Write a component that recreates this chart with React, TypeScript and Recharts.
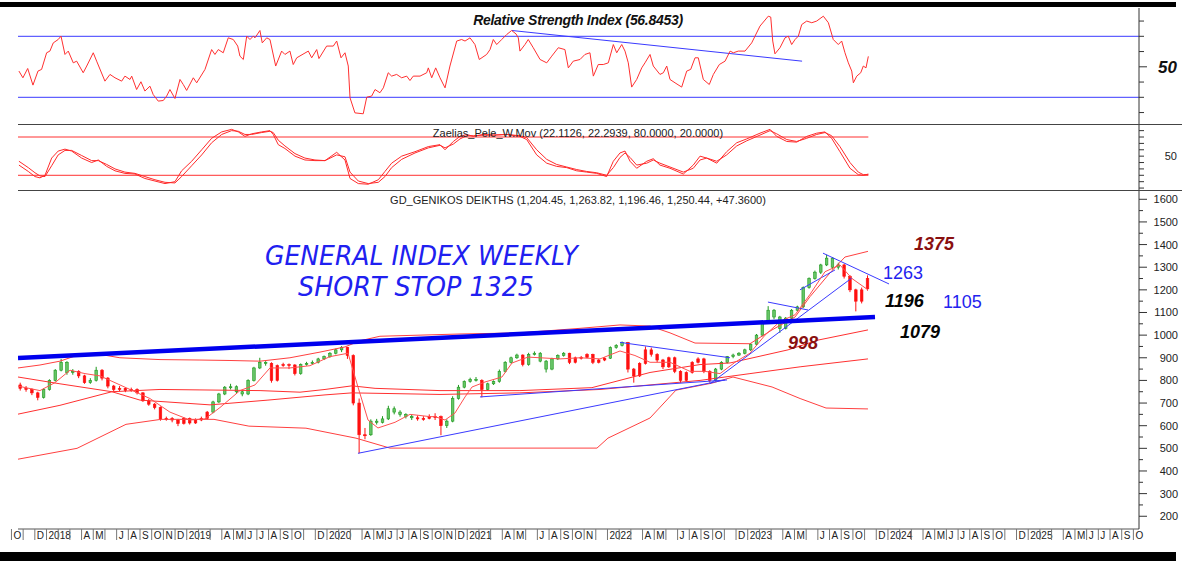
import React from 'react';
import { ComposedChart, Line, Bar, XAxis, YAxis, Scatter } from 'recharts';

const FONT = '"Liberation Sans", Arial, sans-serif';
const W = 1182;
const T_DOMAIN: [number, number] = [0.56, 96.48]; // months since Oct 1, 2017

// ---------- Month labels (index = months since Oct 2017) ----------
const monthLabels: string[] = [
  'O', '', 'D',
  '2018', '', '', 'A', 'M', '', 'J', 'A', 'S', 'O', 'N', 'D',
  '2019', '', '', 'A', 'M', 'J', 'J', 'A', 'S', 'O', '', 'D',
  '2020', '', '', 'A', 'M', 'J', 'J', 'A', 'S', 'O', 'N', 'D',
  '2021', '', '', 'A', 'M', '', 'J', 'A', 'S', 'O', 'N', '',
  '2022', '', '', 'A', 'M', '', 'J', 'A', 'S', 'O', '', 'D',
  '2023', '', '', 'A', 'M', '', 'J', 'A', 'S', 'O', '', 'D',
  '2024', '', '', 'A', 'M', 'J', 'J', 'A', 'S', 'O', '', 'D',
  '2025', '', '', 'A', 'M', 'J', 'J', 'A', 'S', 'O',
];
const monthTicks = monthLabels.map((_, i) => i);

// ---------- Candles: half-month bars [open, high, low, close, trendUp] ----------
const candleStart = 0.75;
const candleStep = 0.5;
const candles: [number, number, number, number, number][] = [
  [780, 790, 755, 765, 0], [765, 775, 750, 760, 0], [760, 765, 735, 745, 0], [745, 750, 712, 725, 0],
  [725, 765, 720, 760, 1], [760, 805, 755, 800, 1], [800, 850, 795, 845, 1], [845, 895, 840, 880, 1],
  [880, 885, 825, 835, 1], [835, 850, 825, 840, 1], [840, 845, 810, 820, 0], [820, 825, 785, 790, 0],
  [790, 810, 785, 800, 1], [800, 860, 795, 845, 1], [845, 850, 800, 810, 0], [810, 815, 765, 775, 0],
  [775, 780, 750, 760, 0], [760, 775, 752, 765, 0], [765, 770, 748, 755, 0], [755, 768, 750, 760, 0],
  [760, 765, 738, 745, 0], [745, 748, 705, 710, 0], [710, 718, 688, 695, 0], [695, 700, 672, 680, 0],
  [680, 685, 622, 630, 0], [630, 640, 622, 632, 0], [632, 638, 615, 625, 0], [625, 630, 598, 610, 0],
  [610, 638, 605, 632, 0], [632, 636, 605, 612, 0], [612, 632, 608, 625, 0], [625, 640, 620, 632, 0],
  [632, 665, 628, 660, 0], [660, 710, 655, 705, 1], [705, 745, 700, 740, 1], [740, 775, 735, 770, 1],
  [770, 785, 760, 772, 1], [772, 778, 742, 750, 1], [750, 755, 730, 740, 1], [740, 805, 735, 800, 1],
  [800, 860, 795, 855, 1], [855, 900, 850, 880, 1], [880, 885, 865, 875, 1], [875, 880, 790, 800, 0],
  [800, 870, 795, 865, 0], [865, 878, 860, 870, 0], [870, 875, 850, 868, 0], [868, 872, 822, 830, 0],
  [830, 875, 825, 870, 1], [870, 882, 865, 875, 1], [875, 888, 870, 880, 1], [880, 900, 875, 895, 1],
  [895, 910, 890, 905, 1], [905, 925, 900, 920, 1], [920, 940, 915, 935, 1], [935, 952, 925, 945, 1],
  [945, 948, 895, 910, 0], [910, 915, 690, 700, 0], [700, 720, 478, 560, 0], [560, 590, 540, 560, 0],
  [560, 628, 555, 620, 1], [620, 630, 605, 615, 1], [615, 642, 610, 630, 1], [630, 688, 625, 675, 1],
  [675, 685, 650, 660, 1], [660, 668, 640, 650, 1], [650, 655, 632, 640, 1], [640, 648, 625, 635, 1],
  [635, 645, 622, 630, 0], [630, 642, 622, 632, 0], [632, 650, 628, 640, 0], [640, 655, 625, 640, 0],
  [640, 645, 558, 600, 0], [600, 628, 590, 620, 1], [620, 730, 615, 720, 1], [720, 780, 715, 770, 1],
  [770, 800, 765, 795, 1], [795, 812, 790, 805, 1], [805, 815, 795, 800, 1], [800, 805, 725, 760, 0],
  [760, 790, 755, 785, 1], [785, 800, 780, 795, 1], [795, 848, 790, 840, 1], [840, 885, 835, 880, 1],
  [880, 905, 875, 900, 1], [900, 918, 895, 912, 1], [912, 915, 862, 870, 0], [870, 922, 865, 915, 1],
  [915, 928, 910, 920, 1], [920, 925, 880, 885, 1], [885, 890, 835, 850, 1], [850, 900, 845, 895, 1],
  [895, 915, 890, 910, 1], [910, 925, 905, 920, 1], [920, 922, 872, 880, 0], [880, 905, 875, 900, 0],
  [900, 908, 892, 902, 0], [902, 920, 898, 915, 0], [915, 918, 872, 880, 0], [880, 895, 875, 890, 0],
  [890, 902, 885, 898, 0], [898, 950, 895, 945, 1], [945, 960, 940, 955, 1], [955, 972, 950, 968, 1],
  [968, 970, 835, 850, 0], [850, 855, 790, 820, 0], [820, 880, 815, 875, 0], [875, 950, 870, 935, 0],
  [935, 945, 905, 915, 0], [915, 920, 880, 890, 0], [890, 895, 850, 860, 0], [860, 905, 855, 900, 0],
  [900, 905, 832, 840, 0], [840, 845, 789, 800, 0], [800, 840, 795, 835, 0], [835, 885, 830, 880, 0],
  [880, 902, 875, 895, 0], [895, 900, 832, 840, 0], [840, 845, 790, 800, 0], [800, 855, 795, 850, 1],
  [850, 885, 845, 880, 1], [880, 908, 875, 905, 1], [905, 918, 898, 912, 1], [912, 925, 908, 920, 1],
  [920, 940, 915, 935, 1], [935, 965, 930, 960, 1], [960, 1005, 955, 1000, 1], [1000, 1065, 995, 1060, 1],
  [1060, 1128, 1055, 1110, 1], [1110, 1115, 1070, 1080, 1], [1080, 1085, 1010, 1030, 1], [1030, 1080, 1025, 1075, 1],
  [1075, 1115, 1070, 1110, 1], [1110, 1130, 1105, 1125, 1], [1125, 1215, 1120, 1210, 1], [1210, 1255, 1205, 1250, 1],
  [1250, 1285, 1245, 1278, 1], [1278, 1315, 1270, 1310, 1], [1310, 1355, 1305, 1340, 1], [1340, 1345, 1290, 1300, 1],
  [1300, 1320, 1290, 1310, 1], [1310, 1315, 1250, 1260, 0], [1260, 1265, 1190, 1200, 0], [1200, 1205, 1105, 1150, 0],
  [1150, 1210, 1140, 1200, 0], [1204.45, 1263.82, 1196.46, 1250.44, 0],
];

// ---------- Price overlays [t, value] ----------
const upperBand: [number, number][] = [
  [0.56, 855], [2.44, 868], [4.15, 885], [5.86, 915], [7.57, 915], [9.28, 900], [12.71, 892], [16.13, 890],
  [18.7, 888], [21.27, 885], [23.83, 900], [26.4, 925], [28.54, 948], [29.82, 975], [31.53, 995], [34.96, 1000],
  [38.38, 1005], [43.51, 1010], [48.65, 1030], [52.07, 1045], [54.64, 1040], [56.35, 1010], [58.49, 965],
  [63.19, 962], [65.08, 1023], [67.05, 1080], [68.33, 1170], [70.04, 1275], [71.32, 1345], [73.29, 1370],
];
const lowerBand: [number, number][] = [
  [0.56, 452], [5.61, 500], [9.8, 606], [12.79, 628], [17.33, 628], [20.32, 598], [25.2, 589], [29.48, 545],
  [32.39, 501], [37.01, 501], [50.1, 501], [51.04, 545], [54.64, 634], [56.86, 757], [59.94, 788], [61.74, 815],
  [65.08, 771], [67.48, 720], [69.7, 678], [73.29, 674],
];
const midBand: [number, number][] = [
  [0.56, 651], [4.15, 690], [8.6, 750], [12.71, 760], [16.13, 758], [21.27, 755], [24.69, 748], [26.83, 760],
  [29.14, 776], [31.11, 765], [36.67, 755], [43.51, 755], [49.67, 768], [54.64, 835], [58.92, 870], [61.48, 877],
  [66.45, 935], [69.01, 978], [73.29, 1023],
];
const longMA: [number, number][] = [
  [0.56, 815], [4.15, 785], [8.6, 750], [11.0, 713], [16.99, 692], [21.95, 713], [26.83, 736], [29.14, 745],
  [36.67, 738], [43.51, 745], [50.36, 760], [54.64, 780], [58.92, 800], [63.19, 830], [67.48, 860], [73.29, 895],
];
const shortMA: [number, number][] = [
  [0.56, 775], [2.44, 755], [3.72, 790], [5.01, 845], [6.29, 830], [7.57, 820], [8.86, 790], [10.14, 760],
  [11.85, 720], [13.56, 660], [15.27, 625], [16.56, 630], [17.84, 680], [19.55, 755], [20.84, 780], [22.12, 855],
  [23.83, 855], [25.54, 865], [27.25, 905], [28.8, 920], [29.65, 771], [30.51, 625], [31.36, 590], [32.82, 615],
  [34.1, 650], [35.81, 640], [36.24, 640], [37.1, 625], [37.95, 656], [38.81, 727], [39.41, 771], [40.52, 793],
  [41.97, 815], [42.83, 877], [44.2, 903], [45.23, 900], [46.94, 895], [48.65, 900], [50.36, 895], [52.07, 930],
  [53.35, 910], [54.64, 880], [56.35, 880], [58.06, 840], [59.34, 840], [60.63, 830], [61.91, 880], [63.19, 920],
  [64.48, 1000], [65.76, 1060], [67.05, 1090], [68.33, 1180], [69.61, 1280], [70.89, 1310], [71.92, 1250], [73.29, 1200],
];

// hand-drawn trend lines on price panel: [[t1, v1], [t2, v2]]
const thickTrend: [number, number][] = [[0.56, 899], [73.89, 1080]];
const thinTrends: [number, number][][] = [
  [[29.65, 478], [61.06, 802]],
  [[40.09, 727], [61.23, 802]],
  [[52.07, 968], [61.48, 900]],
  [[59.77, 785], [71.92, 1253]],
  [[69.44, 1362], [75.09, 1226]],
  [[64.73, 1146], [68.16, 1111]],
  [[67.47, 1200], [70.47, 1288]],
];

// annotations [t, value, text, kind]
const annotations: [number, number, string, string][] = [
  [21.69, 1309, 'GENERAL INDEX WEEKLY', 'hand1'],
  [24.52, 1173, 'SHORT STOP 1325', 'hand2'],
  [77.23, 1378, '1375', 'darkred'],
  [74.58, 1246, '1263', 'blue'],
  [74.75, 1126, '1196', 'black'],
  [79.71, 1118, '1105', 'blue'],
  [76.03, 987, '1079', 'black'],
  [66.45, 937, '998', 'darkred'],
];

// ---------- RSI [t, value] ----------
const rsi: [number, number][] = [
  [0.64, 47.2], [0.98, 42.8], [1.39, 48.9], [1.84, 38], [2.27, 47.2], [2.58, 48.3], [3.01, 59.2], [3.29, 60.3],
  [3.58, 65.7], [4.0, 67.9], [4.24, 70.1], [4.58, 58.1], [4.86, 60.3], [5.29, 52.6], [5.58, 53.7], [6.14, 46.1],
  [6.44, 50.5], [7.0, 59.2], [7.29, 53.7], [8.0, 40.6], [8.43, 45], [8.86, 42.8], [9.43, 40.6], [9.71, 43.9],
  [10.14, 41.7], [10.29, 43.9], [10.71, 35.1], [11.08, 40.2], [11.42, 34.1], [11.85, 37.3], [12.13, 31.8],
  [12.56, 27.5], [12.99, 27.9], [13.28, 30.8], [13.56, 35.1], [13.99, 29.2], [14.42, 41.7], [14.7, 38.4],
  [14.99, 34.5], [15.56, 42.8], [15.85, 39.5], [16.56, 48.3], [17.13, 61.3], [17.41, 58.1], [17.7, 61.3],
  [18.12, 59.2], [18.55, 69], [18.98, 67.9], [19.36, 63.6], [19.55, 57], [19.84, 54.8], [20.13, 70.1],
  [20.41, 67.9], [20.69, 70.1], [20.84, 69], [21.26, 73.8], [21.46, 65.7], [21.84, 69], [22.12, 67.9],
  [22.61, 50.5], [23.12, 60.3], [23.4, 58.1], [23.83, 60.3], [24.11, 51.5], [24.41, 55.9], [25.4, 60.3],
  [25.69, 55.9], [26.12, 61.3], [26.31, 55.4], [26.97, 63.6], [27.54, 63.6], [27.83, 66.9], [28.2, 55.9],
  [28.54, 59.2], [28.82, 50.5], [28.97, 29.7], [29.39, 19.8], [30.1, 19.2], [30.4, 30.1], [30.82, 30.8],
  [31.11, 35.1], [31.53, 33], [31.82, 36.2], [32.24, 46.1], [32.53, 43.9], [32.96, 45], [33.39, 42.8],
  [33.82, 43.9], [34.1, 41], [34.38, 43.9], [34.96, 43.9], [35.53, 46.1], [35.67, 49.3], [35.96, 42.8],
  [36.3, 49.3], [36.67, 42.8], [37.1, 36.2], [37.52, 50.5], [38.1, 66.9], [38.52, 67.9], [38.81, 66.9],
  [39.24, 69], [39.66, 64.6], [40.03, 54.8], [40.66, 58.1], [40.95, 61.3], [41.23, 67.9], [41.52, 64.6],
  [41.95, 67.9], [42.38, 71.2], [42.8, 73.8], [43.17, 71.6], [43.37, 69], [43.51, 60.3], [43.94, 64.6],
  [44.22, 67.9], [44.65, 62.5], [45.23, 54.8], [45.8, 52.6], [46.23, 57], [46.79, 62.5], [47.36, 61.3],
  [47.65, 49.3], [48.07, 53.7], [48.65, 54.8], [49.07, 58.1], [49.5, 59.2], [49.79, 43.9], [50.21, 51.5],
  [50.64, 51.5], [51.07, 52.6], [51.5, 64.6], [51.79, 59.2], [52.22, 64.6], [52.5, 60.3], [52.78, 52.6],
  [53.07, 36.7], [53.5, 41.7], [53.93, 49.3], [54.21, 52.6], [54.64, 58.1], [54.92, 50.5], [55.49, 45],
  [55.78, 46.1], [56.07, 50.5], [56.35, 41.7], [56.78, 39.5], [57.35, 36.7], [57.78, 47.2], [58.12, 48.3],
  [58.49, 55.9], [58.77, 55.9], [59.2, 41.7], [59.71, 38.4], [60.06, 45], [60.57, 51.5], [61.06, 53.7],
  [61.49, 60.3], [61.77, 59.2], [62.19, 60.3], [62.77, 60.3], [63.34, 65.7], [64.05, 76.7], [64.76, 83.2],
  [64.97, 82.6], [65.14, 66.9], [65.33, 58.5], [65.76, 62.5], [66.19, 69], [66.47, 70.1], [66.76, 64.6],
  [67.05, 67.9], [67.33, 70.1], [67.62, 77.7], [68.05, 80], [68.48, 78.9], [68.9, 80], [69.47, 83.2],
  [69.9, 78.9], [70.32, 67.9], [70.75, 64.6], [71.04, 66.9], [71.32, 59.2], [71.61, 52.6], [71.9, 47.2],
  [72.04, 39.5], [72.33, 43.9], [72.67, 46.1], [72.89, 50.5], [73.12, 49.3], [73.32, 56.85],
];
const rsiTrend: [number, number][] = [[42.83, 73.8], [67.65, 53.7]];

// ---------- Oscillator [t, fast, slow] ----------
const osc: [number, number, number][] = [
  [0.64, 36, 42], [1.44, 26, 32], [2.01, 18, 24], [2.44, 16, 19], [2.87, 20, 18], [3.44, 47, 35], [4.0, 58, 52],
  [4.58, 61, 59], [5.15, 58, 59], [6.01, 47, 51], [6.86, 40, 43], [7.43, 44, 43], [8.15, 34, 37], [8.86, 27, 30],
  [9.71, 23, 25], [10.57, 22, 23], [11.42, 15, 18], [12.28, 11, 13], [13.14, 7, 9], [13.99, 10, 8], [14.56, 27, 18],
  [15.42, 42, 35], [16.28, 60, 52], [17.13, 78, 71], [17.99, 88, 84], [18.84, 92, 90], [19.41, 88, 89],
  [19.98, 81, 84], [20.55, 85, 84], [21.41, 88, 87], [22.12, 90, 89], [22.4, 84, 87], [22.83, 68, 75],
  [23.4, 62, 66], [24.26, 50, 54], [25.11, 44, 47], [25.97, 43, 44], [26.83, 43, 43], [27.83, 56, 52],
  [28.54, 44, 49], [28.97, 15, 25], [29.68, 7, 11], [30.53, 6, 7], [31.39, 13, 9], [31.96, 26, 18],
  [32.53, 39, 32], [33.39, 50, 45], [34.53, 57, 55], [35.67, 65, 63], [36.67, 68, 67], [37.1, 60, 63],
  [37.81, 73, 69], [38.38, 81, 77], [38.95, 84, 82], [39.52, 81, 82], [40.37, 84, 83], [41.23, 83, 83],
  [42.38, 84, 84], [43.51, 81, 82], [44.09, 76, 79], [44.94, 52, 60], [45.8, 39, 45], [46.65, 34, 37],
  [47.51, 32, 33], [48.37, 27, 29], [49.22, 25, 26], [50.08, 23, 24], [50.93, 18, 20], [51.5, 42, 32],
  [52.07, 55, 48], [52.5, 58, 55], [52.93, 42, 48], [53.5, 31, 36], [54.36, 42, 39], [54.92, 46, 44],
  [55.49, 36, 39], [56.35, 31, 33], [57.49, 22, 25], [58.34, 36, 31], [58.92, 50, 44], [59.49, 47, 47],
  [60.35, 39, 42], [61.2, 57, 52], [62.06, 71, 66], [62.91, 77, 74], [64.05, 86, 83], [64.91, 92, 90],
  [65.48, 81, 85], [66.34, 73, 76], [67.19, 72, 73], [68.05, 81, 78], [68.9, 86, 84], [69.61, 88, 87],
  [70.18, 78, 82], [70.89, 57, 65], [71.75, 31, 40], [72.46, 21, 25], [72.89, 20, 21], [73.32, 22, 21],
];
const oscLevels = [80, 20];
const oscEnd = 73.32;

// ---------- helpers ----------
const pts = (a: [number, number][]) => a.map(([t, v]) => ({ t, v }));
const candleData = candles.map(([o, h, l, c, up], i) => ({
  t: candleStart + candleStep * i, o, h, l, c, up, range: [l, h],
}));
const annotationData = annotations.map(([t, v, text, kind]) => ({ t, v, text, kind }));

const HAND = '"DejaVu Sans", sans-serif';
const annStyle: Record<string, any> = {
  darkred: { fill: '#8a1010', fontSize: 18, fontWeight: 'bold', fontStyle: 'italic', fontFamily: FONT },
  black: { fill: '#050505', fontSize: 18, fontWeight: 'bold', fontStyle: 'italic', fontFamily: FONT },
  blue: { fill: '#2323ee', fontSize: 18, fontFamily: FONT },
  hand1: { fill: '#2020f0', fontSize: 26, fontStyle: 'italic', fontWeight: 200, fontFamily: HAND, textLength: 313 },
  hand2: { fill: '#2020f0', fontSize: 26, fontStyle: 'italic', fontWeight: 200, fontFamily: HAND, textLength: 236 },
};

const AnnotationShape = (p: any) => {
  const st = annStyle[p.payload.kind] || {};
  const { textLength, ...rest } = st;
  return (
    <text x={p.cx} y={p.cy} {...rest} textLength={textLength} lengthAdjust={textLength ? 'spacingAndGlyphs' : undefined}>
      {p.payload.text}
    </text>
  );
};

const CandleShape = (props: any) => {
  const { x, y, width, height, payload } = props;
  if (!payload || !height) return <g />;
  const { o, h, l, c, up } = payload;
  const k = height / (h - l);
  const yo = y + (h - o) * k;
  const yc = y + (h - c) * k;
  const cx = x + width / 2;
  const color = up ? '#1f991f' : '#ff1010';
  const top = Math.min(yo, yc);
  const bh = Math.max(1, Math.abs(yc - yo));
  return (
    <g>
      <line x1={cx} x2={cx} y1={y} y2={y + height} stroke={color} strokeWidth={1} />
      <rect x={cx - 1.3} y={top} width={2.6} height={bh} fill={up ? '#66c466' : '#ff1010'} stroke={color} strokeWidth={0.6} />
    </g>
  );
};

const rsiTick = ({ x, y, payload }: any) => (
  <g>
    <line x1={x} x2={x + (payload.value === 50 ? 8 : 5)} y1={y} y2={y} stroke="#333" />
    {payload.value === 50 && (
      <text x={x + 38} y={y + 6} textAnchor="end" fontSize={17} fontWeight="bold" fontStyle="italic" fontFamily={FONT} fill="#111">50</text>
    )}
  </g>
);
const oscTick = ({ x, y, payload }: any) => (
  <g>
    <line x1={x} x2={x + 5} y1={y} y2={y} stroke="#333" />
    {payload.value === 50 && (
      <text x={x + 38} y={y + 4} textAnchor="end" fontSize={11} fontFamily={FONT} fill="#222">50</text>
    )}
  </g>
);
const priceTick = ({ x, y, payload }: any) => {
  const major = payload.value % 100 === 0;
  return (
    <g>
      <line x1={x} x2={x + (major ? 8 : 4)} y1={y} y2={y} stroke="#333" />
      {major && (
        <text x={x + 39} y={y + 4} textAnchor="end" fontSize={11} fontFamily={FONT} fill="#222">{payload.value}</text>
      )}
    </g>
  );
};
const monthTick = ({ x, y, payload }: any) => (
  <g>
    <line x1={x} x2={x} y1={y} y2={y + 11} stroke="#777" />
    <text x={x + 2} y={y + 10} fontSize={10} fontFamily={FONT} fill="#222">{monthLabels[payload.value]}</text>
  </g>
);

const rsiTicks = [20, 30, 40, 50, 60, 70, 80];
const oscTicks = [0, 10, 20, 30, 40, 50, 60, 70, 80, 90];
const priceTicks: number[] = [];
for (let v = 200; v <= 1600; v += 50) priceTicks.push(v);

const lineProps = { type: 'linear' as const, dot: false, activeDot: false, isAnimationActive: false, dataKey: 'v' };

const xHidden = (
  <XAxis dataKey="t" type="number" domain={T_DOMAIN} allowDataOverflow hide />
);

export default function App() {
  return (
    <div style={{ position: 'absolute', left: 0, top: 0, width: W, height: 563, background: '#fff', overflow: 'hidden', fontFamily: FONT }}>
      {/* RSI panel */}
      <div style={{ position: 'absolute', left: 0, top: 8 }}>
        <ComposedChart width={W} height={116} margin={{ top: 0, right: 0, bottom: 0, left: 18 }}>
          {xHidden}
          <YAxis orientation="right" width={43} type="number" domain={[12.5, 88.56]} allowDataOverflow ticks={rsiTicks}
            tick={rsiTick} tickLine={false} tickSize={0} tickMargin={0} axisLine={{ stroke: '#333' }} interval={0} />
          <Line {...lineProps} data={pts([[T_DOMAIN[0], 70], [T_DOMAIN[1], 70]])} stroke="#3a3aff" strokeWidth={1} />
          <Line {...lineProps} data={pts([[T_DOMAIN[0], 30], [T_DOMAIN[1], 30]])} stroke="#3a3aff" strokeWidth={1} />
          <Line {...lineProps} data={pts(rsiTrend)} stroke="#3a3aff" strokeWidth={1} />
          <Line {...lineProps} data={pts(rsi)} stroke="#ff3030" strokeWidth={1} />
        </ComposedChart>
      </div>

      {/* Oscillator panel */}
      <div style={{ position: 'absolute', left: 0, top: 124 }}>
        <ComposedChart width={W} height={66} margin={{ top: 0, right: 0, bottom: 0, left: 18 }}>
          {xHidden}
          <YAxis orientation="right" width={43} type="number" domain={[-3.05, 100.4]} allowDataOverflow ticks={oscTicks}
            tick={oscTick} tickLine={false} tickSize={0} tickMargin={0} axisLine={{ stroke: '#333' }} interval={0} />
          {oscLevels.map((lv) => (
            <Line key={lv} {...lineProps} data={pts([[T_DOMAIN[0], lv], [oscEnd, lv]])} stroke="#ff3030" strokeWidth={1} />
          ))}
          <Line {...lineProps} data={osc.map(([t, f]) => ({ t, v: f }))} stroke="#ff2a2a" strokeWidth={1} />
          <Line {...lineProps} data={osc.map(([t, , s]) => ({ t, v: s }))} stroke="#ff2a2a" strokeWidth={1} />
        </ComposedChart>
      </div>

      {/* Price panel */}
      <div style={{ position: 'absolute', left: 0, top: 190 }}>
        <ComposedChart width={W} height={373} data={candleData} margin={{ top: 0, right: 0, bottom: 18, left: 18 }}>
          <XAxis dataKey="t" type="number" domain={T_DOMAIN} allowDataOverflow height={16} ticks={monthTicks} interval={0}
            tick={monthTick} tickLine={false} tickSize={0} tickMargin={0} axisLine={{ stroke: '#555' }} />
          <YAxis orientation="right" width={43} type="number" domain={[143.7, 1641]} allowDataOverflow ticks={priceTicks}
            tick={priceTick} tickLine={false} tickSize={0} tickMargin={0} axisLine={{ stroke: '#333' }} interval={0} />
          <Line {...lineProps} data={pts(upperBand)} stroke="#ff4040" strokeWidth={1} />
          <Line {...lineProps} data={pts(lowerBand)} stroke="#ff4040" strokeWidth={1} />
          <Line {...lineProps} data={pts(midBand)} stroke="#ff3030" strokeWidth={1} />
          <Line {...lineProps} data={pts(longMA)} stroke="#ff3030" strokeWidth={1} />
          {thinTrends.map((seg, i) => (
            <Line key={'tr' + i} {...lineProps} data={pts(seg)} stroke="#3a3aff" strokeWidth={1} />
          ))}
          <Bar dataKey="range" shape={CandleShape} barSize={4} isAnimationActive={false} />
          <Line {...lineProps} data={pts(shortMA)} stroke="#ff5050" strokeWidth={1} />
          <Line {...lineProps} data={pts(thickTrend)} stroke="#0000ee" strokeWidth={4.5} />
          <Scatter data={annotationData} dataKey="v" shape={AnnotationShape} isAnimationActive={false} />
        </ComposedChart>
      </div>

      {/* frame */}
      <div style={{ position: 'absolute', left: 0, top: 2, width: 1176, height: 5, background: '#000' }} />
      <div style={{ position: 'absolute', left: 18, top: 124, width: 1164, height: 1, background: '#444' }} />
      <div style={{ position: 'absolute', left: 18, top: 190, width: 1164, height: 1, background: '#444' }} />
      <div style={{ position: 'absolute', left: 0, top: 552, width: 1176, height: 9, background: '#000' }} />

      {/* titles */}
      <div style={{ position: 'absolute', left: 278, width: 600, top: 12, textAlign: 'center', fontSize: 14, lineHeight: '16px', fontWeight: 'bold', fontStyle: 'italic', color: '#111', letterSpacing: -0.3 }}>
        Relative Strength Index (56.8453)
      </div>
      <div style={{ position: 'absolute', left: 278, width: 600, top: 127, textAlign: 'center', fontSize: 11, lineHeight: '13px', color: '#222' }}>
        Zaelias_Pele_W.Mov (22.1126, 22.2939, 80.0000, 20.0000)
      </div>
      <div style={{ position: 'absolute', left: 278, width: 600, top: 194, textAlign: 'center', fontSize: 11, lineHeight: '13px', color: '#222' }}>
        GD_GENIKOS DEIKTHS (1,204.45, 1,263.82, 1,196.46, 1,250.44, +47.3600)
      </div>
    </div>
  );
}
